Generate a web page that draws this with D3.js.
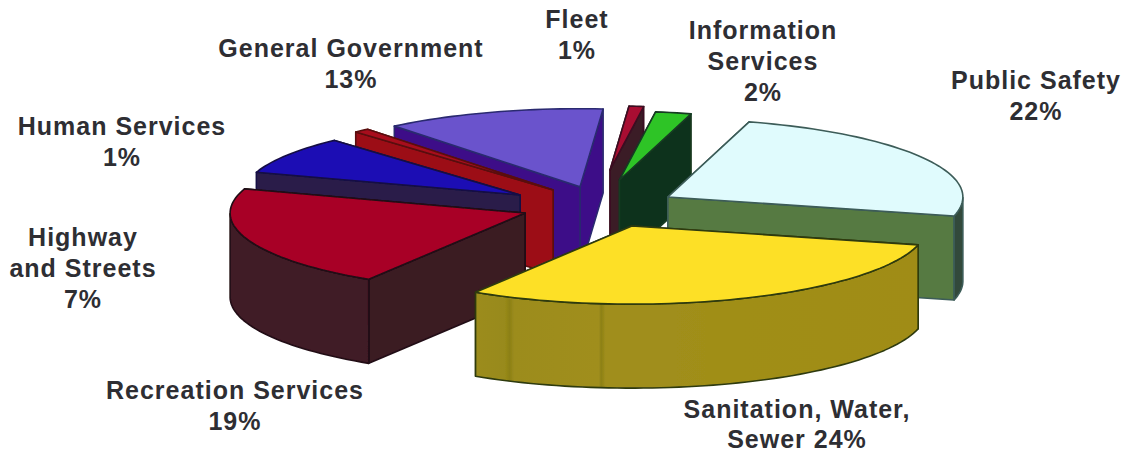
<!DOCTYPE html>
<html><head><meta charset="utf-8">
<script src="https://cdn.jsdelivr.net/npm/d3@7/dist/d3.min.js"></script>
<style>html,body{margin:0;background:#fff}svg{display:block}text{font-family:"Liberation Sans",Arial,sans-serif;font-weight:700;font-size:25px;fill:#2e2e33;letter-spacing:1px}</style>
</head><body><svg id="c" width="1123" height="453"></svg>
<script>
const categories=["Fleet","Information Services","Public Safety","Sanitation, Water, Sewer","Recreation Services","Highway and Streets","Human Services","General Government"];
const percentLabels=[1,2,22,24,19,7,1,13];
const drawnDegrees=[3.5,8,88,108,76,30,3,43.5];
const topColors=["#a80c30","#2ec428","#e0fbfd","#fde025","#a80028","#1c0eb4","#a80d1e","#6a52cc"];
const wallColors=["#3a1a28","#10331f","#567a42","#9c8c1a","#3b1a24","#2a1e4a","#9c1018","#3e0a88"];
const outerColors=["#3a1a28","#10331f","#33483a","url(#sanWall)","#401a26","#2a1e4a","#9c1018","#3e0a88"];
const edgeColors=["#3a1020","#143a20","#3c5c58","#2e3a10","#200c14","#141044","#5a1010","#2a2a70"];
const explodeU=[.068,.10,.264,.142,-.22,-.237,-.125,-.034];
const explodeV=[-.256,-.128,.09,.46,.295,.064,0,-.04];
const radiusScale=[.82,.88,1,1,1,.94,1,1];
const drawOrder=[0,1,7,6,5,2,4,3];
const labels=[
 {lines:["Fleet","1%"],x:577,y:28,gap:31},
 {lines:["Information","Services","2%"],x:763,y:39,gap:31},
 {lines:["Public Safety","22%"],x:1036,y:89,gap:31},
 {lines:["Sanitation, Water,","Sewer 24%"],x:797,y:418,gap:29.5},
 {lines:["Recreation Services","19%"],x:235,y:399,gap:31},
 {lines:["Highway","and Streets","7%"],x:83,y:246,gap:31},
 {lines:["Human Services","1%"],x:122,y:135,gap:31},
 {lines:["General Government","13%"],x:351,y:57,gap:31}
];
const cx=590,cy=190,R=295,S=.265,H=84;
const startDeg=4.5;
const svg=d3.select("#c");
const pie=d3.pie().sort(null).value(d=>d).startAngle(startDeg*Math.PI/180).endAngle((startDeg+360)*Math.PI/180);
const arcs=pie(drawnDegrees);
const line=d3.line();
function proj(u,v,drop){return [cx+R*u, cy+R*S*v+(drop?H:0)];}
const defs=svg.append("defs");
const f=defs.append("filter").attr("id","soft");f.append("feGaussianBlur").attr("stdDeviation",.45);
const gr=defs.append("linearGradient").attr("id","sanWall").attr("gradientUnits","userSpaceOnUse").attr("x1",474).attr("x2",920).attr("y1",0).attr("y2",0);
[[0,"#9c8c1c"],[.07,"#988a1a"],[.08,"#8c8016"],[.09,"#9c8c1c"],[.28,"#a08e1c"],[.285,"#8c8016"],[.295,"#a08e1c"],[.6,"#a08e18"],[1,"#a08c14"]].forEach(s=>gr.append("stop").attr("offset",s[0]).attr("stop-color",s[1]));
const root=svg.append("g").attr("filter","url(#soft)");
drawOrder.forEach(i=>{
  const a=arcs[i],eu=explodeU[i],ev=explodeV[i],rs=radiusScale[i];
  const at=t=>[eu+rs*Math.sin(t),ev-rs*Math.cos(t)];
  const n=Math.max(4,Math.ceil((a.endAngle-a.startAngle)/.03));
  const ang=d3.range(n+1).map(k=>a.startAngle+(a.endAngle-a.startAngle)*k/n);
  const pts=ang.map(at);
  const apex=[eu,ev];
  const g=root.append("g").attr("stroke",edgeColors[i]).attr("stroke-width",1.6).attr("stroke-linejoin","round");
  const quad=(A,B)=>[proj(A[0],A[1]),proj(B[0],B[1]),proj(B[0],B[1],1),proj(A[0],A[1],1)];
  const radial=[quad(apex,pts[0]),quad(apex,pts[n])].map(q=>({q,z:q[1][1]})).sort((x,y)=>x.z-y.z);
  radial.forEach(fc=>g.append("path").attr("d",line(fc.q)+"Z").attr("fill",wallColors[i]));
  const front=ang.filter(t=>Math.cos(t)<0).map(at);
  if(front.length>1){
    const topArc=front.map(p=>proj(p[0],p[1])),botArc=front.map(p=>proj(p[0],p[1],1)).reverse();
    g.append("path").attr("d",line([...topArc,...botArc])+"Z").attr("fill",outerColors[i]);
  }
  g.append("path").attr("d",line([apex,...pts].map(p=>proj(p[0],p[1])))+"Z").attr("fill",topColors[i]);
});
const t=svg.append("g").attr("text-anchor","middle");
labels.forEach(l=>{l.lines.forEach((s,j)=>t.append("text").attr("x",l.x).attr("y",l.y+j*l.gap).text(s));});
</script></body></html>
